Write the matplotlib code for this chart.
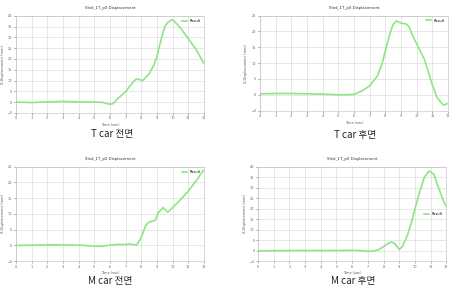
import matplotlib
matplotlib.use("Agg")
import matplotlib.pyplot as plt

# T car front
t_front_t = [0, 1, 2, 3, 4, 5, 5.5, 5.8, 6.0, 6.2, 6.5, 7.0, 7.5, 7.7, 8.1, 8.5, 8.8, 9.0, 9.2, 9.5, 9.7, 10.0, 10.5, 11.0, 11.5, 12]
t_front_y = [0, -0.2, 0.1, 0.3, 0.1, 0, -0.1, -0.6, -1.0, -0.7, 1.6, 4.8, 9.5, 10.8, 10.0, 13, 17, 21, 27, 35, 37, 38.3, 34.5, 29.5, 24.5, 18]

# T car rear
t_rear_t = [0, 1, 2, 3, 4, 5, 5.5, 6.0, 6.5, 7.0, 7.5, 7.8, 8.0, 8.3, 8.5, 8.7, 8.9, 9.0, 9.3, 9.5, 9.7, 10.0, 10.5, 11.0, 11.3, 11.7, 12]
t_rear_y = [0.3, 0.4, 0.4, 0.3, 0.2, 0, 0, 0.1, 1.2, 2.8, 6, 10, 14, 19.5, 22.3, 23.3, 22.8, 22.6, 22.4, 21.5, 19, 16, 11, 3, -1, -3.3, -2.7]

# M car front
m_front_t = [0, 1, 2, 3, 4, 5, 5.5, 6, 6.5, 7, 7.3, 7.7, 8.0, 8.3, 8.5, 8.9, 9.1, 9.4, 9.7, 10, 10.5, 11, 11.5, 12]
m_front_y = [0, 0.1, 0.2, 0.2, 0.1, -0.2, -0.3, 0.1, 0.3, 0.3, 0.5, 0.1, 2.5, 6.5, 7.4, 8, 10.5, 12, 10.6, 12, 14.5, 17.2, 20.5, 24]

# M car rear
m_rear_t = [0, 1, 2, 3, 4, 5, 6, 6.5, 7, 7.3, 7.7, 8.0, 8.3, 8.5, 8.7, 9.0, 9.2, 9.5, 9.8, 10.0, 10.3, 10.6, 10.9, 11.2, 11.5, 11.8, 12]
m_rear_y = [0, 0, 0.1, 0.1, 0.1, 0.1, 0.2, 0.1, -0.3, -0.2, 0.5, 2, 3.5, 4.2, 3.5, 0.6, 2, 7, 14, 20, 28, 35, 38, 36.5, 30, 24, 21]

captions = ["T car 전면", "T car 후면", "M car 전면", "M car 후면"]
plot_title = "Sled_1T_p0 Displacement"
legend_label = "Result"

# axes boxes in figure fractions, legend placement, y range
panels = [
    (t_front_t, t_front_y, [0.035, 0.608, 0.413, 0.337], (-5, 40), "upper right"),
    (t_rear_t, t_rear_y, [0.571, 0.616, 0.414, 0.330], (-5, 25), "upper right"),
    (m_front_t, m_front_y, [0.035, 0.093, 0.413, 0.328], (-5, 25), "upper right"),
    (m_rear_t, m_rear_y, [0.567, 0.093, 0.414, 0.328], (-5, 40), "center right"),
]
caption_pos = [(112, 134), (355, 135), (110, 281), (353, 281)]

fig = plt.figure(figsize=(4.55, 2.88), dpi=100)
green = "#8fe585"

for (t, y, box, ylim, loc), cap, (cx, cy) in zip(panels, captions, caption_pos):
    ax = fig.add_axes(box)
    ax.plot(t, y, color=green, lw=1.2, label=legend_label)
    ax.set_xlim(0, 12)
    ax.set_ylim(*ylim)
    ax.set_xticks(range(0, 13))
    ax.set_yticks(range(ylim[0], ylim[1] + 1, 5))
    ax.grid(True, color="#dddddd", lw=0.5)
    ax.tick_params(labelsize=2.5, colors="#666666", length=1.5, width=0.4, pad=1)
    for s in ax.spines.values():
        s.set_color("#bbbbbb")
        s.set_linewidth(0.4)
    ax.set_title(plot_title, fontsize=2.8, pad=5, color="#333333")
    ax.set_xlabel("Time (sec)", fontsize=2.5, labelpad=2, color="#555555")
    ax.set_ylabel("X-Displacement (mm)", fontsize=2.5, labelpad=2, color="#555555")
    ax.legend(loc=loc, fontsize=2.5, frameon=False, handlelength=1.5)
    fig.text(cx / 455, 1 - cy / 288, cap, ha="center", va="center",
             fontsize=7, color="#222222", family=["Noto Sans CJK KR", "DejaVu Sans"])

fig.savefig("out.png", dpi=100)
